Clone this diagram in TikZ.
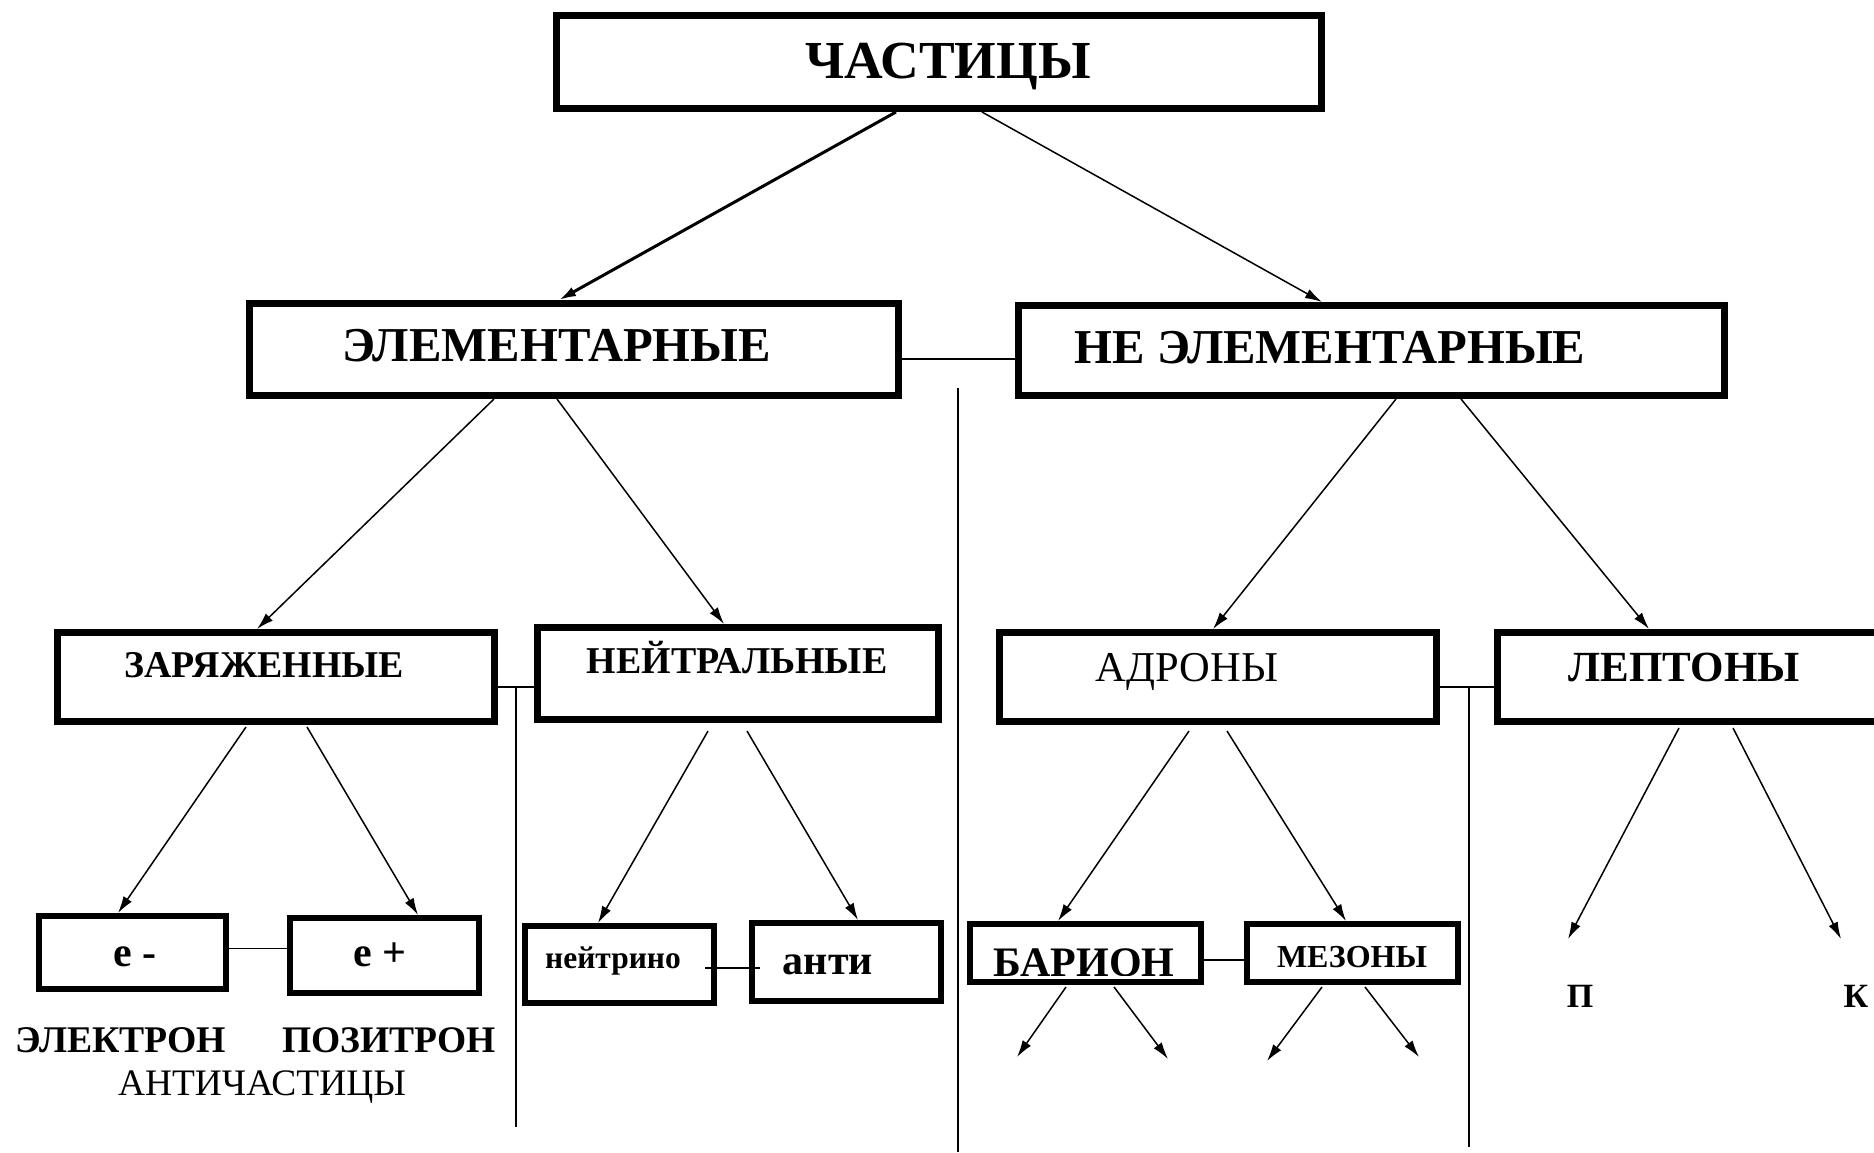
\documentclass[tikz,border=0pt]{standalone}
\usepackage{fontspec}
\setmainfont{Liberation Serif}
\usetikzlibrary{arrows.meta,calc}
\newcommand\sz[1]{\fontsize{#1}{#1}\selectfont}
\begin{document}
\begin{tikzpicture}[x=1pt,y=-1pt,
  box/.style={draw,line width=7pt,inner sep=0pt,anchor=north west},
  sbox/.style={draw,line width=6pt,inner sep=0pt,anchor=north west},
  txt/.style={anchor=base,inner sep=0pt},
  arr/.style={line width=1.5pt,-{Latex[length=17pt,width=10pt]}},
  link/.style={line width=1.8pt},
  divider/.style={line width=1.8pt}]
\useasboundingbox (0,0) rectangle (1874,1152);

% --- boxes ---
\node[box,minimum width=765,minimum height=93] (top) at (553,12) {};
\node[box,minimum width=649,minimum height=92] (elem) at (246,300) {};
\node[box,minimum width=706,minimum height=90] (nonelem) at (1015,302) {};
\node[box,minimum width=437,minimum height=89] (charged) at (54,629) {};
\node[box,minimum width=401,minimum height=92] (neutral) at (534,624) {};
\node[box,minimum width=437,minimum height=89] (hadron) at (996,629) {};
\node[box,minimum width=380,minimum height=89] (lepton) at (1494,629) {};
\node[sbox,minimum width=187,minimum height=73] (em) at (36,913) {};
\node[sbox,minimum width=189,minimum height=75] (ep) at (287,915) {};
\node[sbox,minimum width=189,minimum height=77] (nu) at (522,923) {};
\node[sbox,minimum width=189,minimum height=78] (anti) at (749,920) {};
\node[sbox,minimum width=231,minimum height=58] (baryon) at (967,921) {};
\node[sbox,minimum width=211,minimum height=58] (meson) at (1244,921) {};

% --- labels ---
\node[txt,font=\sz{53.5}\bfseries] (t-top) at (948,78) {ЧАСТИЦЫ};
\node[txt,font=\sz{48.7}\bfseries] (t-elem) at (557,361) {ЭЛЕМЕНТАРНЫЕ};
\node[txt,font=\sz{48.7}\bfseries] (t-nonelem) at (1330,363) {НЕ ЭЛЕМЕНТАРНЫЕ};
\node[txt,font=\sz{37.8}\bfseries] (t-charged) at (264,677) {ЗАРЯЖЕННЫЕ};
\node[txt,font=\sz{37.9}\bfseries] (t-neutral) at (737,673) {НЕЙТРАЛЬНЫЕ};
\node[txt,font=\sz{42.5}] (t-hadron) at (1187,681) {АДРОНЫ};
\node[txt,font=\sz{43}\bfseries] (t-lepton) at (1684,681) {ЛЕПТОНЫ};
\node[txt,font=\sz{42}\bfseries] (t-em) at (135,966) {e -};
\node[txt,font=\sz{42}\bfseries] (t-ep) at (380,966) {e +};
\node[txt,font=\sz{31.5}\bfseries] (t-nu) at (613,968) {нейтрино};
\node[txt,font=\sz{42}\bfseries] (t-anti) at (828,974) {анти};
\begin{scope}
  \clip ($(baryon.north west)+(6,6)$) rectangle ($(baryon.south east)+(-6,-10)$);
  \node[txt,font=\sz{42}\bfseries] (t-baryon) at (1084,976) {БАРИОН};
\end{scope}
\node[txt,font=\sz{32}\bfseries] (t-meson) at (1352,967) {МЕЗОНЫ};
\node[txt,font=\sz{34}\bfseries] (t-pi) at (1580,1007) {П};
\node[txt,font=\sz{34}\bfseries] (t-k) at (1856,1007) {К};
\node[txt,font=\sz{37.7}\bfseries] (t-electron) at (121,1052) {ЭЛЕКТРОН};
\node[txt,font=\sz{37.5}\bfseries] (t-positron) at (389,1052) {ПОЗИТРОН};
\node[txt,font=\sz{37.4}] (t-antip) at (262,1095) {АНТИЧАСТИЦЫ};

% --- free ends ---
\coordinate (div1a) at (958,388);
\coordinate (div1b) at (958,1152);
\coordinate (pi-end) at (1568,939);
\coordinate (k-end) at (1841,939);
\coordinate (b1) at (1017,1057);
\coordinate (b2) at (1168,1059);
\coordinate (m1) at (1267,1061);
\coordinate (m2) at (1419,1057);

% --- arrows between levels ---
\draw[arr,line width=3pt] ($(top.south west)+(343,0)$) -- ($(elem.north west)+(313,0)$);
\draw[arr] ($(top.south west)+(429,0)$) -- ($(nonelem.north west)+(307,0)$);
\draw[arr] ($(elem.south west)+(248,0)$) -- ($(charged.north west)+(203,0)$);
\draw[arr] ($(elem.south west)+(311,0)$) -- ($(neutral.north west)+(190,0)$);
\draw[arr] ($(nonelem.south west)+(381,0)$) -- ($(hadron.north west)+(217,0)$);
\draw[arr] ($(nonelem.south west)+(446,0)$) -- ($(lepton.north west)+(155,0)$);
\draw[arr] ($(charged.south west)+(192,2)$) -- ($(em.north west)+(82,0)$);
\draw[arr] ($(charged.south west)+(253,2)$) -- ($(ep.north west)+(131,0)$);
\draw[arr] ($(neutral.south west)+(174,8)$) -- ($(nu.north west)+(76,0)$);
\draw[arr] ($(neutral.south west)+(213,8)$) -- ($(anti.north west)+(109,0)$);
\draw[arr] ($(hadron.south west)+(193,6)$) -- ($(baryon.north west)+(91,0)$);
\draw[arr] ($(hadron.south west)+(231,6)$) -- ($(meson.north west)+(102,0)$);
\draw[arr] ($(lepton.south west)+(185,3)$) -- (pi-end);
\draw[arr] ($(lepton.south west)+(239,3)$) -- (k-end);
\draw[arr] ($(baryon.south west)+(99,2)$) -- (b1);
\draw[arr] ($(baryon.south west)+(147,2)$) -- (b2);
\draw[arr] ($(meson.south west)+(78,2)$) -- (m1);
\draw[arr] ($(meson.south west)+(121,2)$) -- (m2);

% --- side links and dividers ---
\draw[link] ($(elem.south east)+(0,-40)$) coordinate (c1) -- (c1 -| nonelem.west);
\draw[divider] (div1a) -- (div1b);
\draw[link] ($(charged.east)+(0,10)$) coordinate (c2) -- (c2 -| neutral.west);
\coordinate (d2) at ($(c2)!0.5!(c2 -| neutral.west)$);
\draw[divider] (d2) -- ($(d2)+(0,440)$);
\draw[link] ($(hadron.east)+(0,10)$) coordinate (c3) -- (c3 -| lepton.west);
\coordinate (d3) at ($(c3)!0.53!(c3 -| lepton.west)$);
\draw[divider] (d3) -- ($(d3)+(0,460)$);
\draw[link] ($(em.east)+(0,-4)$) coordinate (c4) -- (c4 -| ep.west);
\draw[link] ($(nu.east)+(-12,3.5)$) -- ($(anti.west)+(11,6)$);
\draw[link] ($(baryon.east)+(0,7)$) coordinate (c6) -- (c6 -| meson.west);
\end{tikzpicture}
\end{document}
